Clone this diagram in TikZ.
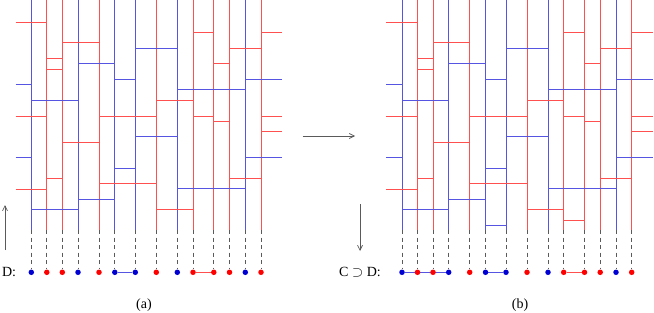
\documentclass[tikz,border=0pt]{standalone}
\usepackage{fontspec}
\setmainfont{Liberation Serif}
\usetikzlibrary{arrows.meta,backgrounds}
\definecolor{lred}{RGB}{255,80,80}
\definecolor{lblue}{RGB}{85,85,225}
\definecolor{dred}{RGB}{255,0,0}
\definecolor{dblue}{RGB}{0,0,210}
\definecolor{agray}{RGB}{90,90,90}
\tikzset{
  liner/.style={lred, line width=0.8pt},
  lineb/.style={lblue, line width=0.8pt},
  dashln/.style={agray, line width=0.7pt, dash pattern=on 4pt off 3.5pt},
  dotr/.style={circle, fill=dred, inner sep=0pt, minimum size=5.5pt},
  dotb/.style={circle, fill=dblue, inner sep=0pt, minimum size=5.5pt},
  arr/.style={agray, line width=0.7pt, -{Straight Barb[length=5pt,width=5pt]}},
  lbl/.style={font=\fontsize{14}{16}\selectfont, inner sep=0pt},
}
\begin{document}
\begin{tikzpicture}[x=1pt,y=-1pt]
\useasboundingbox (0,0) rectangle (654,313);
\foreach \p/\s in {a/0,b/370.7}{
  \begin{scope}[xshift=\s pt]
    \foreach \i/\x/\c in {1/31.3/b,2/46.8/r,3/62.3/r,4/78/b,5/99/r,6/114.8/b,7/135.3/b,8/156.3/r,9/177.3/b,10/193/r,11/213.8/r,12/229.5/r,13/245.3/b,14/261/r}{
      \coordinate (\p t\i) at (\x,0);
      \coordinate (\p e\i) at (\x,230);
      \node[dot\c] (\p d\i) at (\x,272.3) {};
      \draw[line\c] (\p t\i) -- (\p e\i);
      \draw[dashln] (\p e\i) -- (\p d\i.north);
    }
    \foreach \c/\xa/\xb/\y in {
      r/15.7/46.8/22, r/193/213.8/32.3, r/261/282/32.3, r/62.3/99/42.7,
      b/135.3/177.3/48.3, r/229.5/261/48.3, r/46.8/62.3/58.3, b/78/114.8/63.3,
      r/213.8/229.5/63.3, r/46.8/62.3/69, b/114.8/135.3/79.3, b/245.3/282/79.3,
      b/15.7/31.3/84.3, b/177.3/245.3/89.3, b/31.3/78/100, r/156.3/193/100,
      r/15.7/46.8/116, r/99/156.3/116, r/193/213.8/116, r/261/282/116,
      r/213.8/229.5/121.3, r/261/282/131.3, b/135.3/177.3/136.3, r/62.3/99/142,
      b/15.7/31.3/157.3, b/245.3/282/157.3, b/114.8/135.3/168.3, r/46.8/62.3/178.3,
      r/229.5/261/178.3, r/99/156.3/183.3, r/15.7/46.8/189, b/177.3/245.3/188.7,
      b/78/114.8/199.3, b/31.3/78/209.3, r/156.3/193/209.3}{
      \draw[line\c] (\xa,\y) -- (\xb,\y);
    }
  \end{scope}
}
% extra rungs in (b)
\begin{scope}[xshift=370.7pt]
  \draw[liner] (193,220) -- (213.8,220);
  \draw[lineb] (114.8,225.3) -- (135.3,225.3);
\end{scope}
% connections between dots
\begin{scope}[on background layer]
  \draw[lineb] (ad6) -- (ad7);
  \draw[liner] (ad10) -- (ad11);
  \draw[lineb] (bd1) -- (bd4);
  \draw[lineb] (bd6) -- (bd7);
  \draw[liner] (bd10) -- (bd11);
\end{scope}
% labels
\node[lbl] (dlab) at (9,272.3) {D:};
\node[lbl] (cdlab) at (360,272.3) {C $\supset$ D:};
\node[lbl] (capa) at (144,305) {(a)};
\node[lbl] (capb) at (520,305) {(b)};
% arrows
\coordinate (up0) at (5,250);
\coordinate (up1) at (5,205);
\draw[arr] (up0) -- (up1);
\coordinate (rt0) at (302.7,136);
\coordinate (rt1) at (355,136);
\draw[arr] (rt0) -- (rt1);
\coordinate (dn0) at (360,204);
\coordinate (dn1) at (360,251);
\draw[arr] (dn0) -- (dn1);
\end{tikzpicture}
\end{document}
